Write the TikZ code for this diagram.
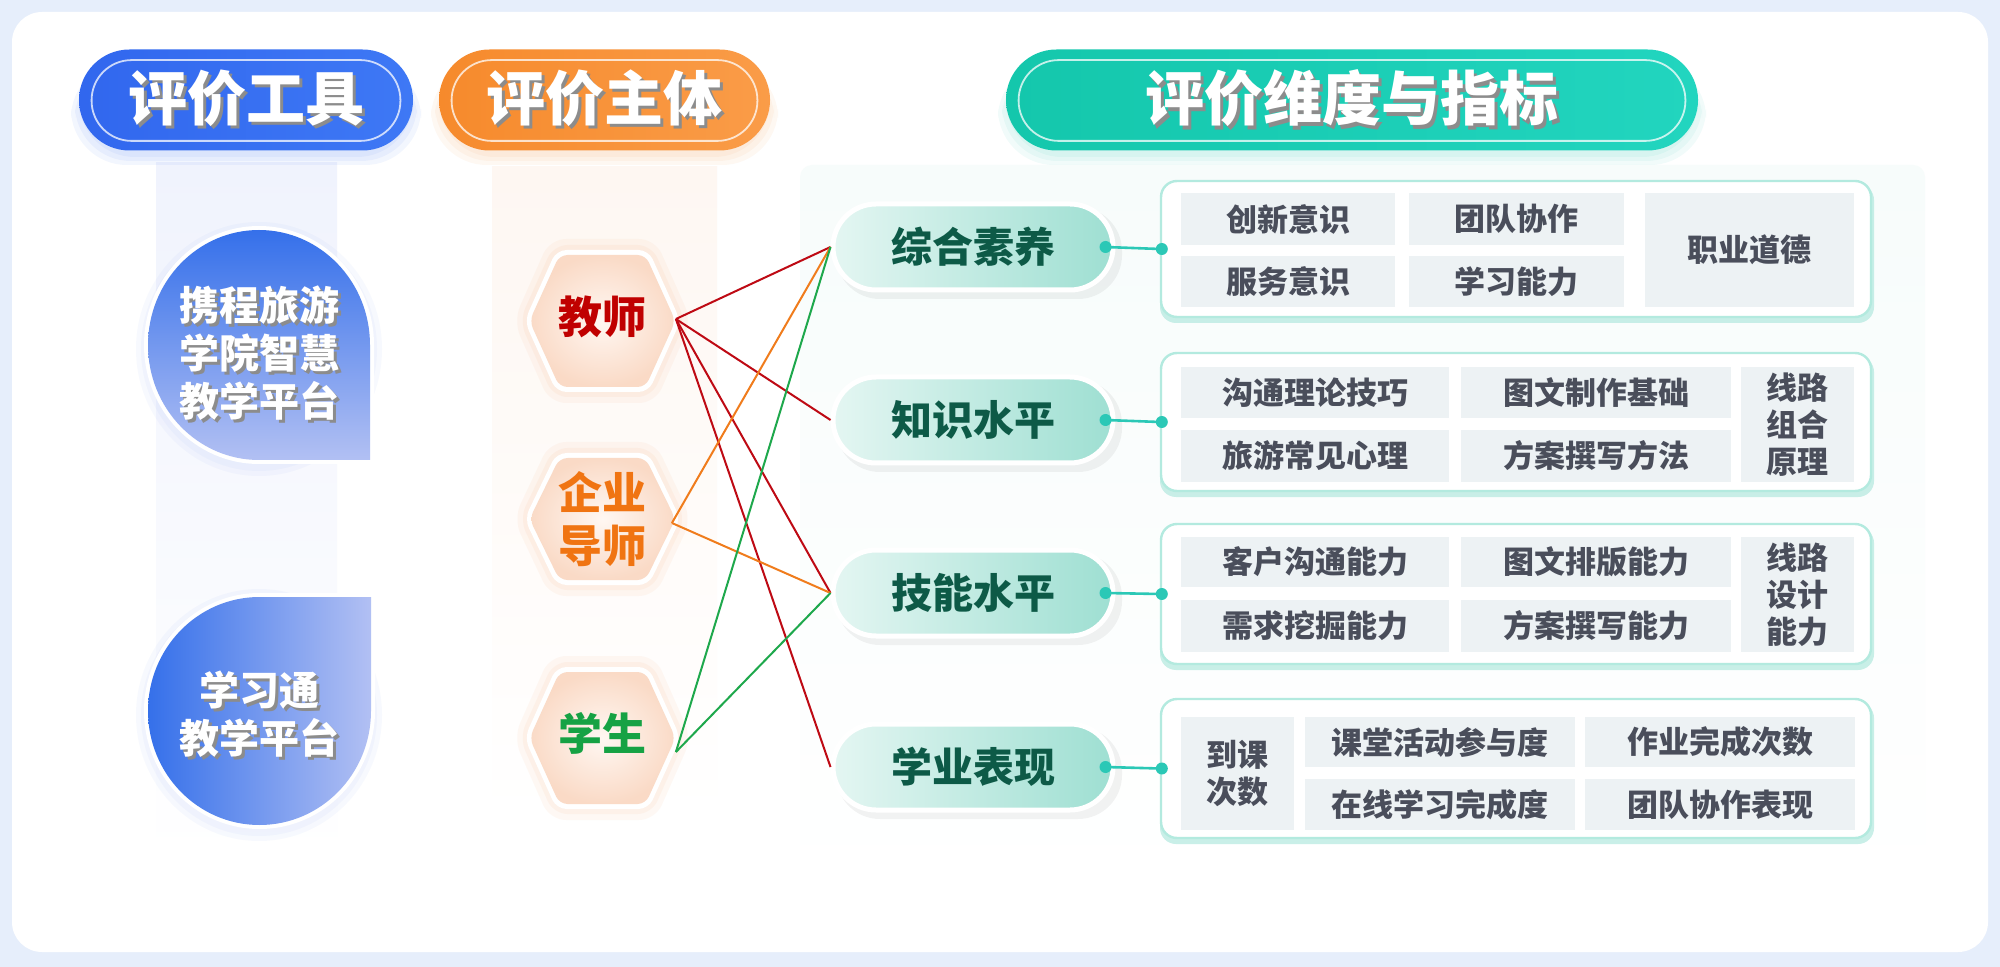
\documentclass[tikz,border=0pt]{standalone}
\usepackage{fontspec}
\setmainfont{Noto Sans CJK SC}
\usetikzlibrary{shapes.misc,calc}
\definecolor{bgblue}{HTML}{E6EEFB}
\definecolor{toolblue}{HTML}{3167EE}
\definecolor{toolblueL}{HTML}{3E78F5}
\definecolor{subjor}{HTML}{F68A2C}
\definecolor{subjorL}{HTML}{FA9C48}
\definecolor{dimteal}{HTML}{14C7AC}
\definecolor{dimtealL}{HTML}{22D5BF}
\definecolor{tA}{HTML}{3570EA}
\definecolor{tB}{HTML}{B2C0F3}
\definecolor{bandBlueA}{HTML}{F0F3FD}
\definecolor{bandBlueB}{HTML}{DCE2FA}
\definecolor{bandOrA}{HTML}{FEF7F2}
\definecolor{bandOrB}{HTML}{FCE5D8}
\definecolor{bandGrA}{HTML}{F7FCFB}
\definecolor{bandGrB}{HTML}{DBF3EE}
\definecolor{hexIn}{HTML}{FFF7F2}
\definecolor{hexOut}{HTML}{FADAC6}
\definecolor{hexGlow}{HTML}{F9A36A}
\definecolor{tRed}{HTML}{C00000}
\definecolor{tOrange}{HTML}{F07412}
\definecolor{tGreen}{HTML}{16A244}
\definecolor{lRed}{HTML}{BE0A14}
\definecolor{lOrange}{HTML}{F07C1C}
\definecolor{lGreen}{HTML}{1EA84C}
\definecolor{pillL}{HTML}{E4F6F2}
\definecolor{pillR}{HTML}{9EDFD2}
\definecolor{pillTxt}{HTML}{0D5A47}
\definecolor{dotTeal}{HTML}{2BC8B6}
\definecolor{boxLine}{HTML}{B3EADF}
\definecolor{boxShadow}{HTML}{A6E5D9}
\definecolor{cellFill}{HTML}{EDF2F4}
\definecolor{cellTxt}{HTML}{4A4E5B}
\newcommand{\fsz}[2]{\fontsize{#1}{#2}\selectfont}
\newcommand{\shtext}[1]{\rlap{\hspace{1.6pt}\raisebox{-1.6pt}{\textcolor{black!45}{#1}}}\textcolor{white}{#1}}
% #1 cx, #2 cy, #3 half height, #4 grow, #5 options
\newcommand{\hexfill}[5]{\fill[#5] ({#1-73-#4},#2) -- ({#1-43-0.6*#4},{#2-#3-#4}) -- ({#1+43+0.6*#4},{#2-#3-#4}) -- ({#1+73+#4},#2) -- ({#1+43+0.6*#4},{#2+#3+#4}) -- ({#1-43-0.6*#4},{#2+#3+#4}) -- cycle;}
\newcommand{\hexshade}[3]{\shade[inner color=hexIn, outer color=hexOut, rounded corners=4pt] ({#1-73},#2) -- ({#1-43},{#2-#3}) -- ({#1+43},{#2-#3}) -- ({#1+73},#2) -- ({#1+43},{#2+#3}) -- ({#1-43},{#2+#3}) -- cycle;}
\newcommand{\cellnode}[6]{\node[cell, minimum width={(#4-#2)*0.5pt}, minimum height={(#5-#3)*0.5pt}] (#1) at ({(#2+#4)/2},{(#3+#5)/2}) {#6};}
\tikzset{
  hdr/.style={rounded rectangle, minimum height=50.5pt, inner sep=0pt, font=\bfseries\fsz{29.5pt}{30pt}},
  tooltxt/.style={align=center, inner sep=0pt, font=\bfseries\fsz{20pt}{24pt}},
  hextxt/.style={align=center, inner sep=0pt, minimum width=73pt, font=\bfseries\fsz{22pt}{26.5pt}},
  pill/.style={rounded rectangle, minimum width=140pt, minimum height=43pt, draw=white, line width=2.5pt, left color=pillL, right color=pillR, text=pillTxt, inner sep=0pt, font=\bfseries\fsz{20.5pt}{22pt}},
  dimbox/.style={rounded corners=8pt, draw=boxLine, line width=1.2pt, fill=white, minimum width=355pt, inner sep=0pt},
  cell/.style={fill=cellFill, inner sep=0pt, align=center, text=cellTxt, font=\bfseries\fsz{15.5pt}{18.5pt}},
  redline/.style={lRed, line width=1pt},
  orline/.style={lOrange, line width=1pt},
  grline/.style={lGreen, line width=1pt},
  tealline/.style={dotTeal, line width=1.3pt},
}
\begin{document}
\begin{tikzpicture}[x=0.5pt,y=-0.5pt]
\useasboundingbox (0,0) rectangle (2000,967);
\fill[bgblue] (0,0) rectangle (2000,967);
\fill[white, rounded corners=15pt] (12,12) rectangle (1988,952);

% background bands
\shade[top color=bandBlueA, middle color=bandBlueB, bottom color=white] (156,163) rectangle (337,860);
\shade[top color=bandOrA, middle color=bandOrB, bottom color=white] (492,167) rectangle (717,820);
\shade[top color=bandGrA, middle color=bandGrB, bottom color=white, rounded corners=6pt] (800,165) rectangle (1925,890);

% header glows (mostly below)
\foreach \g in {3,7,11}{
  \fill[toolblue, opacity=0.06, rounded corners=28pt] ({82-\g},{62}) rectangle ({410+\g},{154+\g});
  \fill[subjor, opacity=0.06, rounded corners=28pt] ({442-\g},{62}) rectangle ({767+\g},{154+\g});
  \fill[dimteal, opacity=0.06, rounded corners=28pt] ({1009-\g},{62}) rectangle ({1695+\g},{154+\g});
}
% headers
\node[hdr, minimum width=167pt, left color=toolblue, right color=toolblueL] (hTool) at (246,100) {\shtext{评价工具}};
\node[hdr, minimum width=165.5pt, left color=subjor, right color=subjorL] (hSubj) at (604.5,100) {\shtext{评价主体}};
\node[hdr, minimum width=346pt, left color=dimteal, right color=dimtealL] (hDim) at (1352,100) {\shtext{评价维度与指标}};
\foreach \h in {hTool,hSubj,hDim}{
  \draw[white, opacity=0.75, line width=0.9pt, rounded corners=20pt] ($(\h.west |- \h.north)+(6.5pt,-5.5pt)$) rectangle ($(\h.east |- \h.south)+(-6.5pt,5pt)$);
}

% tool shapes
\foreach \g in {5,10}{
  \fill[toolblue, opacity=0.035] (259,{345+4}) ellipse [x radius={113+\g}, y radius={117+\g}];
  \fill[toolblue, opacity=0.035] (259,{711+4}) ellipse [x radius={113+\g}, y radius={116+\g}];
}
\fill[white] (374,464) -- (259,464) arc[start angle=90, end angle=360, x radius=115, y radius=119] -- cycle;
\shade[top color=tA, bottom color=tB] (370,460) -- (259,460) arc[start angle=90, end angle=360, x radius=111, y radius=115] -- cycle;
\fill[white] (375,593) -- (375,711) arc[start angle=0, end angle=270, x radius=115.5, y radius=118] -- cycle;
\shade[left color=tA, right color=tB] (371,597) -- (371,711) arc[start angle=0, end angle=270, x radius=111.5, y radius=114] -- cycle;
\node[tooltxt, text=black!45] (tool1s) at (262,356) {携程旅游\\学院智慧\\教学平台};
\node[tooltxt, text=white] (tool1) at (259,353) {携程旅游\\学院智慧\\教学平台};
\node[tooltxt, text=black!45] (tool2s) at (262,717) {学习通\\教学平台};
\node[tooltxt, text=white] (tool2) at (259,714) {学习通\\教学平台};

% hexagons
\foreach \cy/\hh in {321/66,519/61,738/66}{
  \hexfill{602.5}{\cy}{\hh}{16}{hexGlow, opacity=0.07, rounded corners=8pt}
  \hexfill{602.5}{\cy}{\hh}{10}{hexGlow, opacity=0.08, rounded corners=7pt}
  \hexfill{602.5}{\cy}{\hh}{5}{white, rounded corners=5pt}
  \hexshade{602.5}{\cy}{\hh}
}
\node[hextxt, text=tRed] (hT) at (602.5,317) {教师};
\node[hextxt, text=tOrange] (hE) at (602.5,519) {企业\\导师};
\node[hextxt, text=tGreen] (hS) at (602.5,733) {学生};

% pills
\foreach \y in {247,420,593,767}{
  \fill[black, opacity=0.05, rounded corners=22pt] (836,{\y-40}) rectangle (1122,{\y+52});
}
\node[pill] (p1) at (973,247) {综合素养};
\node[pill] (p2) at (973,420) {知识水平};
\node[pill] (p3) at (973,593) {技能水平};
\node[pill] (p4) at (973,767) {学业表现};

% connectors
\draw[redline] ([yshift=-1pt]hT.east) -- (p1.west);
\draw[redline] ([yshift=-1pt]hT.east) -- (p2.west);
\draw[redline] ([yshift=-1pt]hT.east) -- (p3.west);
\draw[redline] ([yshift=-1pt]hT.east) -- (p4.west);
\draw[orline] ([xshift=-2pt,yshift=-2pt]hE.east) -- (p1.west);
\draw[orline] ([xshift=-2pt,yshift=-2pt]hE.east) -- (p3.west);
\draw[grline] ([yshift=-9.5pt]hS.east) -- (p1.west);
\draw[grline] ([yshift=-9.5pt]hS.east) -- (p3.west);

% boxes
\foreach \ya/\yb in {180/318,352/492,523/665,698/839}{
  \fill[boxShadow, opacity=0.6, rounded corners=8pt] (1160,{\ya+4}) rectangle (1874,{\yb+5});
}
\node[dimbox, minimum height=68pt] (b1) at (1516,249) {};
\node[dimbox, minimum height=69pt] (b2) at (1516,422) {};
\node[dimbox, minimum height=70pt] (b3) at (1516,594) {};
\node[dimbox, minimum height=69.5pt] (b4) at (1516,768.5) {};

\foreach \p/\b in {p1/b1,p2/b2,p3/b3,p4/b4}{
  \draw[tealline] ([xshift=-5pt]\p.east) -- (\b.west);
  \fill[dotTeal] ([xshift=-5pt]\p.east) circle (3pt);
  \fill[dotTeal] ([xshift=1pt]\b.west) circle (3pt);
}

% cells row 1
\cellnode{c11}{1181}{193}{1395}{245}{创新意识}
\cellnode{c12}{1181}{256}{1395}{307}{服务意识}
\cellnode{c13}{1409}{193}{1624}{245}{团队协作}
\cellnode{c14}{1409}{256}{1624}{307}{学习能力}
\cellnode{c15}{1645}{193}{1854}{307}{职业道德}
% row 2
\cellnode{c21}{1181}{367}{1449}{418}{沟通理论技巧}
\cellnode{c22}{1181}{430}{1449}{482}{旅游常见心理}
\cellnode{c23}{1461}{367}{1731}{418}{图文制作基础}
\cellnode{c24}{1461}{430}{1731}{482}{方案撰写方法}
\cellnode{c25}{1741}{367}{1854}{482}{线路\\组合\\原理}
% row 3
\cellnode{c31}{1181}{537}{1449}{587}{客户沟通能力}
\cellnode{c32}{1181}{600}{1449}{652}{需求挖掘能力}
\cellnode{c33}{1461}{537}{1731}{587}{图文排版能力}
\cellnode{c34}{1461}{600}{1731}{652}{方案撰写能力}
\cellnode{c35}{1741}{537}{1854}{652}{线路\\设计\\能力}
% row 4
\cellnode{c41}{1181}{717}{1294}{830}{到课\\次数}
\cellnode{c42}{1305}{717}{1575}{767}{课堂活动参与度}
\cellnode{c43}{1305}{779}{1575}{830}{在线学习完成度}
\cellnode{c44}{1585}{717}{1855}{767}{作业完成次数}
\cellnode{c45}{1585}{779}{1855}{830}{团队协作表现}
\end{tikzpicture}
\end{document}
